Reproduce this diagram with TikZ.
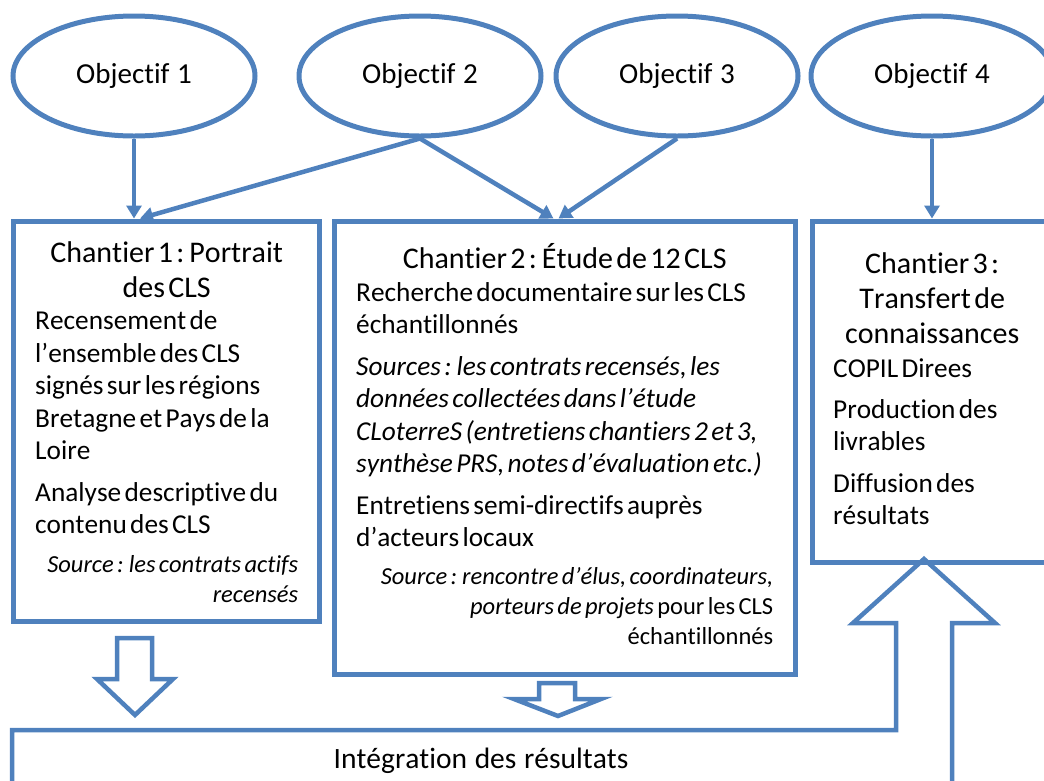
\documentclass[tikz,border=0pt]{standalone}
\usepackage{fontspec}
\setmainfont{Carlito}[Ligatures={NoCommon},Kerning=Off,WordSpace=1.15]
\usepackage{xcolor}
\usepackage{tikz}
\usetikzlibrary{positioning,arrows.meta,shapes.geometric}
\definecolor{cadreblue}{RGB}{79,129,189}
\setlength{\parindent}{0pt}
\setlength{\parskip}{0pt}

\begin{document}
\begin{tikzpicture}[x=1pt,y=-1pt,
  objectif/.style={ellipse,draw=cadreblue,line width=5pt,minimum width=242pt,minimum height=120pt,inner sep=0pt,font=\fontsize{29}{35}\selectfont},
  chantier/.style={draw=cadreblue,line width=5pt,inner sep=0pt},
  texte/.style={anchor=north west,inner sep=0pt,align=left},
  lien/.style={draw=cadreblue,line width=4.5pt,-{Triangle[width=15pt,length=13pt]}},
  bloc/.style={draw=cadreblue,line width=4.5pt,line join=miter}]

  \useasboundingbox (0,0) rectangle (1044,780);
  \clip (0,0) rectangle (1044,780);

  \node[objectif] (obj1) at (134,76) {Objectif 1};
  \node[objectif] (obj2) at (420,76) {Objectif 2};
  \node[objectif] (obj3) at (677,76) {Objectif 3};
  \node[objectif] (obj4) at (932,76) {Objectif 4};

  \node[chantier,minimum width=306pt,minimum height=400pt] (ch1) at (166,421) {};
  \node[chantier,minimum width=461pt,minimum height=453pt] (ch2) at (564.5,447.5) {};
  \node[chantier,minimum width=240pt,minimum height=341pt] (ch3) at (932,391.5) {};

  \draw[lien] (obj1.south) -- (obj1.south |- ch1.north);
  \draw[lien] (obj2.south) -- ([xshift=-26pt]ch1.north);
  \draw[lien] (obj2.south) -- ([xshift=-11pt]ch2.north);
  \draw[lien] (obj3.south) -- ([xshift=-6pt]ch2.north);
  \draw[lien] (obj4.south) -- (ch3.north);

  \node[texte,text width=263pt] (txt1) at (35,237.5) {%
    {\fontsize{30}{35}\selectfont\centering\strut Chantier 1 : Portrait\\des CLS\par}
    {\fontsize{27.3}{32.5}\selectfont
    Recensement de\\l’ensemble des CLS\\signés sur les régions\\Bretagne et Pays de la\\Loire\par
    \vspace{9pt}
    Analyse descriptive du\\contenu des CLS\par}
    \vspace{9pt}
    {\fontsize{24.5}{30}\selectfont\itshape\raggedleft Source : les contrats actifs\\recensés\par}};

  \node[texte,text width=417pt] (txt2) at (356,243.5) {%
    {\fontsize{30}{35}\selectfont\centering\strut Chantier 2 : Étude de 12 CLS\par}
    {\fontsize{27.3}{32.5}\selectfont
    Recherche documentaire sur les CLS\\échantillonnés\par
    \vspace{9pt}
    {\itshape Sources : les contrats recensés, les\\données collectées dans l’étude\\CLoterreS (entretiens chantiers 2 et 3,\\synthèse PRS, notes d’évaluation etc.)\par}
    \vspace{9pt}
    Entretiens semi-directifs auprès\\d’acteurs locaux\par}
    \vspace{8pt}
    {\fontsize{24.5}{30}\selectfont\raggedleft\textit{Source : rencontre d’élus, coordinateurs,}\\\textit{porteurs de projets} pour les CLS\\échantillonnés\par}};

  \node[texte,text width=198pt] (txt3) at (833,248.5) {%
    {\fontsize{30}{35}\selectfont\centering\strut Chantier 3 :\\Transfert de\\connaissances\par}
    \vspace{2pt}
    {\fontsize{27.3}{32.5}\selectfont
    COPIL Direes\par
    \vspace{8pt}
    Production des\\livrables\par
    \vspace{9pt}
    Diffusion des\\résultats\par}};

  \draw[bloc] (117,638) -- (152,638) -- (152,679) -- (173,679) -- (135,715) -- (97,679) -- (117,679) -- cycle;
  \draw[bloc] (539,683) -- (575,683) -- (575,699) -- (601,699) -- (558,716) -- (514,699) -- (539,699) -- cycle;

  \draw[bloc] (12,800) -- (12,730) -- (896,730) -- (896,623) -- (853,623) -- (924,559) -- (995,623) -- (952,623) -- (952,800);
  \node[font=\fontsize{29.5}{35}\selectfont,anchor=base,inner sep=0pt] (integ) at (481,768) {Intégration des résultats};
\end{tikzpicture}
\end{document}
